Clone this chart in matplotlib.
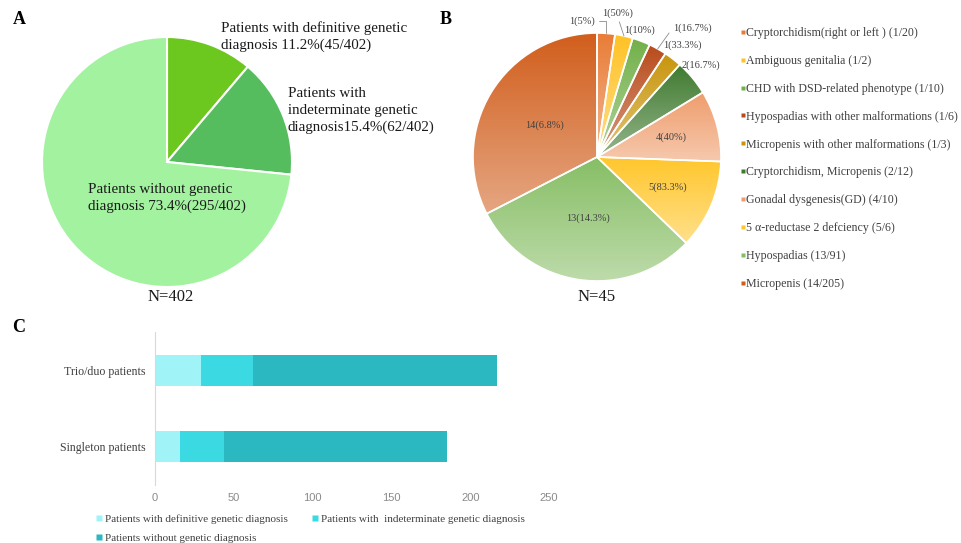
import numpy as np
import matplotlib
matplotlib.use("Agg")
import matplotlib.pyplot as plt
from matplotlib.lines import Line2D
from matplotlib.colors import LinearSegmentedColormap, to_rgb

plt.rcParams['font.family'] = ['Liberation Serif', 'DejaVu Serif']

# ---------------- data ----------------
# Panel A: genetic diagnostic yield of the whole cohort
a_counts = [45, 62, 295]
a_total = 402
a_texts = ["Patients with definitive genetic\ndiagnosis {p}%({c}/{n})",
           "Patients with\nindeterminate genetic\ndiagnosis{p}%({c}/{n})",
           "Patients without genetic\ndiagnosis {p}%({c}/{n})"]
a_colors = ['#6CC71F', '#56BD5E', '#A3F2A0']

# Panel B: phenotypes of the patients with a definitive diagnosis
b_names = ["Cryptorchidism(right or left )", "Ambiguous genitalia",
           "CHD with DSD-related phenotype", "Hypospadias with other malformations",
           "Micropenis with other malformations", "Cryptorchidism, Micropenis",
           "Gonadal dysgenesis(GD)", "5 \u03b1-reductase 2 defciency",
           "Hypospadias", "Micropenis"]
b_counts = [1, 1, 1, 1, 1, 2, 4, 5, 13, 14]
b_group_totals = [20, 2, 10, 6, 3, 12, 10, 6, 91, 205]
b_n = 45
b_colors = ['#E97C37', '#FFC226', '#72B04A', '#B84B1B', '#C8950C',
            '#3F7A2F', '#EF9D6C', '#FFC62B', '#87BE65', '#D15E1C']

# Panel C: yield by sequencing strategy
c_groups = ["Singleton patients", "Trio/duo patients"]
c_definitive = [16, 29]
c_indeterminate = [28, 33]
c_without = [141, 155]
c_series = ["Patients with definitive genetic diagnosis",
            "Patients with  indeterminate genetic diagnosis",
            "Patients without genetic diagnosis"]
c_colors = ['#A0F4F8', '#3BDAE3', '#2BB8C0']
c_xticks = [0, 50, 100, 150, 200, 250]

# ---------------- layout helpers ----------------
W, H = 962, 543
fig = plt.figure(figsize=(W / 100, H / 100), dpi=100)


def px_axes(x0, y0, x1, y1):
    return fig.add_axes([x0 / W, 1 - y1 / H, (x1 - x0) / W, (y1 - y0) / H])


def ftext(px, py, s, **kw):
    return fig.text(px / W, 1 - py / H, s, **kw)


def pct(v):
    s = f"{v:.1f}"
    return s[:-2] if s.endswith(".0") else s


def lighten(c, f):
    r = np.array(to_rgb(c))
    return tuple(r + (1 - r) * f)


def square(color, size):
    return Line2D([], [], marker='s', linestyle='none', markersize=size,
                  markerfacecolor=color, markeredgecolor='none')


TXT = '#1a1a1a'
GRAY = '#404040'

# ---------------- panel A ----------------
ax_a = px_axes(42, 37, 292, 287)
ax_a.pie(a_counts, colors=a_colors, startangle=90, counterclock=False, radius=1,
         wedgeprops=dict(edgecolor='white', linewidth=1.5))
ax_a.set_xlim(-1, 1)
ax_a.set_ylim(-1, 1)
ax_a.set_aspect('auto')
ax_a.axis('off')

a_lbl = [t.format(p=pct(100 * c / a_total), c=c, n=a_total) for t, c in zip(a_texts, a_counts)]
a_kw = dict(fontsize=10.8, color=TXT, va='top', ha='left', linespacing=1.38)
ftext(221, 21, a_lbl[0], **a_kw)
ftext(288, 87, a_lbl[1], **a_kw)
ftext(88, 183, a_lbl[2], **a_kw)
ftext(171, 297, f"N={a_total}", fontsize=12, color=TXT, ha='center', va='center')

# ---------------- panel B ----------------
ax_b = px_axes(473, 33, 721, 281)
wedges, _ = ax_b.pie(b_counts, colors=b_colors, startangle=90, counterclock=False,
                     radius=1, wedgeprops=dict(edgecolor='white', linewidth=1.2))
grad = np.linspace(0, 1, 256)[:, None]
for w, col in zip(wedges, b_colors):
    bb = w.get_path().get_extents()
    cmap = LinearSegmentedColormap.from_list('g', [col, lighten(col, 0.45)])
    im = ax_b.imshow(grad, cmap=cmap, origin='upper', aspect='auto',
                     extent=(bb.x0, bb.x1, bb.y0, bb.y1), zorder=1)
    im.set_clip_path(w)
    w.set_facecolor('none')
    w.set_zorder(3)
ax_b.set_xlim(-1, 1)
ax_b.set_ylim(-1, 1)
ax_b.set_aspect('auto')
ax_b.axis('off')

b_lbl = [f"{c}({pct(100 * c / t)}%)" for c, t in zip(b_counts, b_group_totals)]
cx, cy, R = 597, 157, 124


def to_b(px, py):
    return ((px - cx) / R, (cy - py) / R)


# large slices: labels inside the wedge
for i in range(6, 10):
    w = wedges[i]
    mid = np.deg2rad((w.theta1 + w.theta2) / 2)
    r = 0.62 if i < 8 else 0.5
    ax_b.text(r * np.cos(mid), r * np.sin(mid), b_lbl[i], fontsize=7.5,
              color=GRAY, ha='center', va='center', zorder=5)

# small slices: labels outside, some with leader lines
outer = {0: (582, 21, 'right'), 1: (618, 13, 'below'), 2: (640, 30, None),
         3: (692, 28, 'left'), 4: (682, 45, None), 5: (701, 65, None)}
for i, (px, py, lead) in outer.items():
    w = wedges[i]
    mid = np.deg2rad((w.theta1 + w.theta2) / 2)
    tip = (np.cos(mid), np.sin(mid))
    if lead is None:
        ax_b.text(*to_b(px, py), b_lbl[i], fontsize=7.5, color=GRAY,
                  ha='center', va='center', zorder=5)
    else:
        relpos = {'right': (1, 0.5), 'below': (0.5, 0), 'left': (0, 0.5)}[lead]
        cs = "angle,angleA=0,angleB=90,rad=0" if lead == 'right' else "arc3"
        ax_b.annotate(b_lbl[i], xy=tip, xytext=to_b(px, py), textcoords='data',
                      fontsize=7.5, color=GRAY, ha='center', va='center', zorder=5,
                      arrowprops=dict(arrowstyle='-', color='#8c8c8c', lw=0.6,
                                      shrinkA=1, shrinkB=0, relpos=relpos,
                                      connectionstyle=cs))

ftext(597, 297, f"N={b_n}", fontsize=12, color=TXT, ha='center', va='center')

b_handles = [square(c, 2.6) for c in b_colors]
b_labels = [f"{n} ({c}/{t})" for n, c, t in zip(b_names, b_counts, b_group_totals)]
fig.legend(b_handles, b_labels, loc='upper left', bbox_to_anchor=(741 / W, 1 - 27 / H),
           frameon=False, fontsize=8.6, labelcolor=GRAY, handlelength=0.3,
           handletextpad=0.15, labelspacing=1.33, borderpad=0, borderaxespad=0)

# ---------------- panel C ----------------
ax_c = px_axes(155, 332, 549, 485)
y = np.arange(len(c_groups))
left = np.zeros(len(c_groups))
bars = []
for vals, col in zip([c_definitive, c_indeterminate, c_without], c_colors):
    bars.append(ax_c.barh(y, vals, left=left, height=0.4, color=col, edgecolor='none'))
    left = left + np.array(vals)
ax_c.set_xlim(0, 250)
ax_c.set_ylim(-0.5, 1.5)
ax_c.set_xticks(c_xticks)
ax_c.set_xticklabels([str(t) for t in c_xticks], family='Liberation Sans',
                     fontsize=8, color='#8a8a8a')
ax_c.set_yticks(y)
ax_c.set_yticklabels(c_groups, fontsize=8.6, color=GRAY)
ax_c.tick_params(axis='x', length=0, pad=6)
ax_c.tick_params(axis='y', length=0, pad=7)
for s in ['top', 'right', 'bottom']:
    ax_c.spines[s].set_visible(False)
ax_c.spines['left'].set_color('#d9d9d9')
ax_c.spines['left'].set_linewidth(0.8)

c_handles = [square(c, 5) for c in c_colors]
order = [0, 2, 1]
fig.legend([c_handles[i] for i in order], [c_series[i] for i in order], ncol=2,
           loc='upper left', bbox_to_anchor=(96 / W, 1 - 514 / H), frameon=False,
           fontsize=8, labelcolor=GRAY, handlelength=0.5,
           handletextpad=0.3, labelspacing=0.87, columnspacing=2.2,
           borderpad=0, borderaxespad=0)

# ---------------- panel letters ----------------
for px, py, s in [(13, 11, 'A'), (440, 11, 'B'), (12, 319, 'C')]:
    ftext(px, py, s, fontsize=13, fontweight='bold', color='black', va='top', ha='left')

fig.savefig('out.png', dpi=100, facecolor='white')
